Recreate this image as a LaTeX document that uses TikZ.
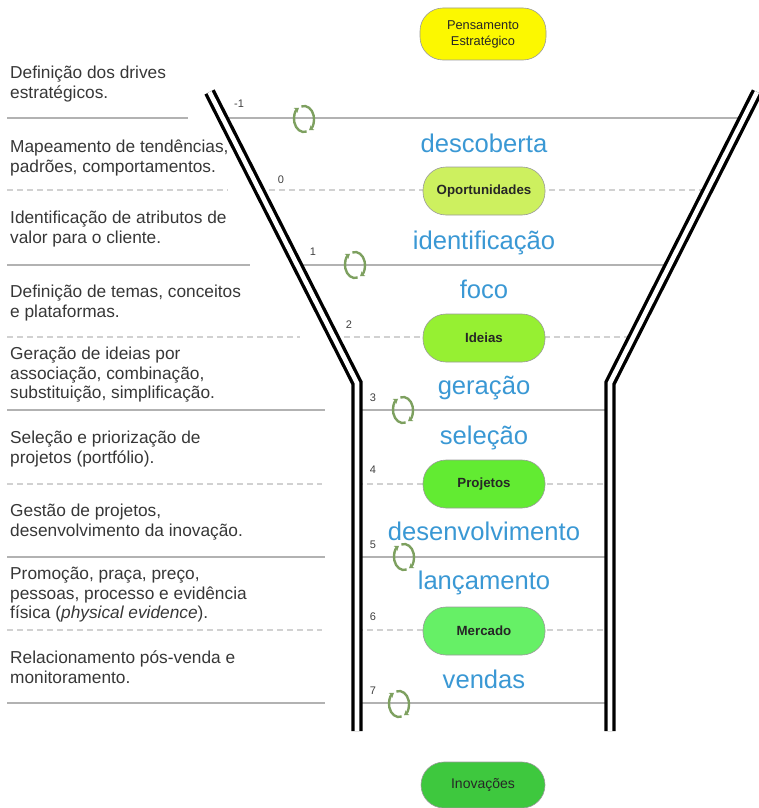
\documentclass[tikz,border=0pt]{standalone}
\usepackage{fontspec}
\setmainfont{Liberation Sans}
\usepackage{tikz}
\usetikzlibrary{shapes.geometric, arrows.meta, positioning, calc}

\definecolor{pensyellow}{RGB}{252,248,0}
\definecolor{oportgreen}{RGB}{205,240,95}
\definecolor{ideiasgreen}{RGB}{150,240,50}
\definecolor{projgreen}{RGB}{98,235,50}
\definecolor{mercgreen}{RGB}{102,240,102}
\definecolor{inovgreen}{RGB}{62,200,62}
\definecolor{verbblue}{RGB}{58,152,212}
\definecolor{loopgreen}{RGB}{125,160,95}
\definecolor{descgray}{RGB}{55,55,55}

\begin{document}
\begin{tikzpicture}[
    x=1pt, y=-1pt,
    >=stealth,
    phase/.style={rectangle, draw=black!40, line width=0.6pt, rounded corners=23pt, minimum width=122pt, minimum height=48pt, inner sep=0pt, text=black!85, font=\bfseries\fontsize{13.3}{15}\selectfont},
    verb/.style={anchor=base, inner sep=0pt, text=verbblue, font=\fontsize{25.6}{28}\selectfont},
    desc/.style={anchor=north west, align=left, inner sep=0pt, text=descgray, font=\fontsize{17.3}{19.6}\selectfont},
    num/.style={inner sep=0pt, text=black!75, font=\fontsize{11}{12}\selectfont},
    sepline/.style={draw=black!30, line width=1.3pt},
    sepdash/.style={draw=black!18, line width=1.3pt, dash pattern=on 6pt off 4pt},
    wall/.style={draw=black, line width=3.4pt, double=white, double distance=4.6pt, line join=miter},
    loopicon/.style={draw=loopgreen, line width=2.4pt, -{Stealth[length=4.5pt,width=6pt]}}
]
    \useasboundingbox (0,0) rectangle (759,808);

    % Funnel corners
    \coordinate (lt) at (209.5,92);
    \coordinate (lb) at (357,383);
    \coordinate (le) at (357,731);
    \coordinate (rt) at (757,92);
    \coordinate (rb) at (610,383);
    \coordinate (re) at (610,731);

    % ========== Separator lines (left column) ==========
    \draw[sepline] (7,118) -- (188,118);
    \draw[sepdash] (7,190) -- (228,190);
    \draw[sepline] (7,265) -- (250,265);
    \draw[sepdash] (7,337) -- (300,337);
    \draw[sepline] (7,410) -- (325,410);
    \draw[sepdash] (7,484) -- (322,484);
    \draw[sepline] (7,557) -- (325,557);
    \draw[sepdash] (7,630) -- (322,630);
    \draw[sepline] (7,703) -- (325,703);

    % ========== Separator lines (inside funnel) ==========
    \draw[sepline] ($(lt)!0.0893!(lb)$) -- ($(rt)!0.0893!(rb)$);
    \draw[sepdash] ($(lt)!0.3368!(lb)$) -- ($(rt)!0.3368!(rb)$);
    \draw[sepline] ($(lt)!0.5945!(lb)$) -- ($(rt)!0.5945!(rb)$);
    \draw[sepdash] ($(lt)!0.8419!(lb)$) -- ($(rt)!0.8419!(rb)$);
    \draw[sepline] (lb |- 0,410) -- (rb |- 0,410);
    \draw[sepdash] (lb |- 0,484) -- (rb |- 0,484);
    \draw[sepline] (lb |- 0,557) -- (rb |- 0,557);
    \draw[sepdash] (lb |- 0,630) -- (rb |- 0,630);
    \draw[sepline] (lb |- 0,703) -- (rb |- 0,703);

    % ========== Funnel walls ==========
    \draw[wall] (lt) -- (lb) -- (le);
    \draw[wall] (rt) -- (rb) -- (re);

    % ========== Phases ==========
    \node (pens) [phase, fill=pensyellow, minimum width=126pt, minimum height=52pt, align=center, font=\fontsize{12.8}{16}\selectfont] at (483,34) {Pensamento\\Estratégico};
    \node (oport) [phase, fill=oportgreen] at (484,191) {Oportunidades};
    \node (ideias) [phase, fill=ideiasgreen] at (484,338) {Ideias};
    \node (proj) [phase, fill=projgreen] at (484,484) {Projetos};
    \node (merc) [phase, fill=mercgreen] at (484,631) {Mercado};
    \node (inov) [phase, fill=inovgreen, minimum width=124pt, minimum height=46pt, font=\fontsize{14}{16}\selectfont] at (483,785) {Inovações};

    % ========== Stage verbs ==========
    \node (descob) [verb] at (484,152) {descoberta};
    \node (ident) [verb] at (484,249) {identificação};
    \node (foco) [verb] at (484,298) {foco};
    \node (gera) [verb] at (484,394) {geração};
    \node (sele) [verb] at (484,444) {seleção};
    \node (desenv) [verb] at (484,540) {desenvolvimento};
    \node (lanc) [verb] at (484,589) {lançamento};
    \node (vendas) [verb] at (484,688) {vendas};

    % ========== Gate numbers ==========
    \node (n-1) [num] at (239,104) {-1};
    \node (n0) [num] at (281,180) {0};
    \node (n1) [num] at (313,252) {1};
    \node (n2) [num] at (349,325) {2};
    \node (n3) [num] at (373,398) {3};
    \node (n4) [num] at (373,470) {4};
    \node (n5) [num] at (373,545) {5};
    \node (n6) [num] at (373,617) {6};
    \node (n7) [num] at (373,691) {7};

    % ========== Gate loops ==========
    \coordinate (g-1) at (304,119);
    \coordinate (g1) at (355,265);
    \coordinate (g3) at (403,410);
    \coordinate (g5) at (404,557);
    \coordinate (g7) at (399,704);
    \draw[loopicon] ($(g-1)+(75:10 and 13)$) arc[start angle=75, end angle=240, x radius=10, y radius=13];
    \draw[loopicon] ($(g-1)+(255:10 and 13)$) arc[start angle=255, end angle=420, x radius=10, y radius=13];
    \draw[loopicon] ($(g1)+(75:10 and 13)$) arc[start angle=75, end angle=240, x radius=10, y radius=13];
    \draw[loopicon] ($(g1)+(255:10 and 13)$) arc[start angle=255, end angle=420, x radius=10, y radius=13];
    \draw[loopicon] ($(g3)+(75:10 and 13)$) arc[start angle=75, end angle=240, x radius=10, y radius=13];
    \draw[loopicon] ($(g3)+(255:10 and 13)$) arc[start angle=255, end angle=420, x radius=10, y radius=13];
    \draw[loopicon] ($(g5)+(75:10 and 13)$) arc[start angle=75, end angle=240, x radius=10, y radius=13];
    \draw[loopicon] ($(g5)+(255:10 and 13)$) arc[start angle=255, end angle=420, x radius=10, y radius=13];
    \draw[loopicon] ($(g7)+(75:10 and 13)$) arc[start angle=75, end angle=240, x radius=10, y radius=13];
    \draw[loopicon] ($(g7)+(255:10 and 13)$) arc[start angle=255, end angle=420, x radius=10, y radius=13];

    % ========== Descriptions ==========
    \node (d1) [desc] at (10,66) {Definição dos drives\\estratégicos.};
    \node (d2) [desc] at (10,140) {Mapeamento de tendências,\\padrões, comportamentos.};
    \node (d3) [desc] at (10,211) {Identificação de atributos de\\valor para o cliente.};
    \node (d4) [desc] at (10,285) {Definição de temas, conceitos\\e plataformas.};
    \node (d5) [desc] at (10,347) {Geração de ideias por\\associação, combinação,\\substituição, simplificação.};
    \node (d6) [desc] at (10,431) {Seleção e priorização de\\projetos (portfólio).};
    \node (d7) [desc] at (10,504) {Gestão de projetos,\\desenvolvimento da inovação.};
    \node (d8) [desc] at (10,567) {Promoção, praça, preço,\\pessoas, processo e evidência\\física (\textit{physical evidence}).};
    \node (d9) [desc] at (10,651) {Relacionamento pós-venda e\\monitoramento.};
\end{tikzpicture}
\end{document}
